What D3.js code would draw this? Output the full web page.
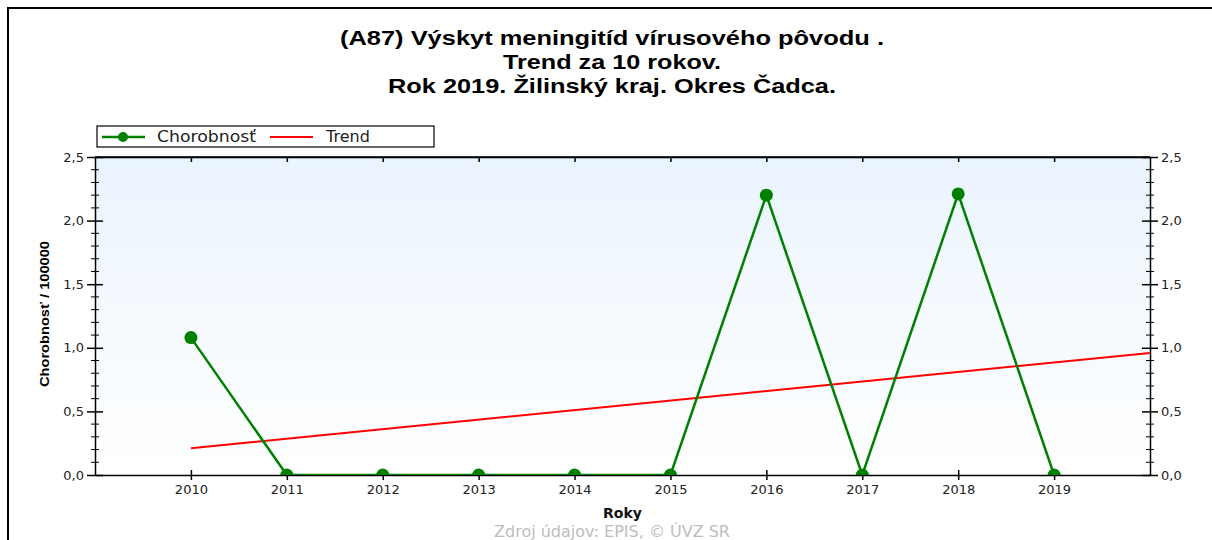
<!DOCTYPE html>
<html>
<head>
<meta charset="utf-8">
<script src="https://cdn.jsdelivr.net/npm/d3@7"></script>
<style>
  body { margin: 0; background: #fff; }
  text { font-family: "Liberation Sans", Arial, sans-serif; }
</style>
</head>
<body>
<svg id="chart" width="1212" height="540"></svg>
<script>
const years = [2010, 2011, 2012, 2013, 2014, 2015, 2016, 2017, 2018, 2019];
const chorobnost = [1.08, 0, 0, 0, 0, 0, 2.2, 0, 2.21, 0];
const trendYears = [2010, 2020];
const trendValues = [0.21, 0.96];
const yTicks = [0, 0.5, 1.0, 1.5, 2.0, 2.5];
const titleLines = [
  "(A87) Výskyt meningitíd vírusového pôvodu .",
  "Trend za 10 rokov.",
  "Rok 2019. Žilinský kraj. Okres Čadca."
];

const svg = d3.select("#chart");
const margin = { top: 157, right: 62, bottom: 65, left: 95 };
const width = 1212, height = 540;
const plotW = width - margin.left - margin.right;
const plotH = height - margin.top - margin.bottom;
const tickFont = '"DejaVu Sans", Verdana, sans-serif';

const x = d3.scaleLinear().domain([2009, 2020]).range([margin.left, margin.left + plotW]);
const y = d3.scaleLinear().domain([0, 2.5]).range([margin.top + plotH, margin.top]);
const fmt = d => d3.format(".1f")(d).replace(".", ",");

// outer frame
svg.append("path")
  .attr("d", "M8,540 L8,8 L1212,8")
  .attr("fill", "none").attr("stroke", "#000").attr("stroke-width", 2);

// titles
svg.selectAll(".title")
  .data(titleLines)
  .join("text")
  .attr("class", "title")
  .attr("x", 612)
  .attr("y", (d, i) => 45 + i * 24)
  .attr("text-anchor", "middle")
  .attr("font-size", 20)
  .attr("font-weight", "bold")
  .attr("fill", "#000")
  .attr("textLength", (d, i) => [544, 218, 448][i])
  .attr("lengthAdjust", "spacingAndGlyphs")
  .text(d => d);

// plot background gradient
const defs = svg.append("defs");
const grad = defs.append("linearGradient").attr("id", "bg").attr("x1", 0).attr("y1", 0).attr("x2", 0).attr("y2", 1);
grad.append("stop").attr("offset", "0%").attr("stop-color", "#eaf4fd");
grad.append("stop").attr("offset", "100%").attr("stop-color", "#ffffff");
defs.append("clipPath").attr("id", "clip")
  .append("rect")
  .attr("x", margin.left).attr("y", margin.top)
  .attr("width", plotW).attr("height", plotH);

svg.append("rect")
  .attr("x", margin.left).attr("y", margin.top)
  .attr("width", plotW).attr("height", plotH)
  .attr("fill", "url(#bg)");

// axes
const bottomAxis = svg.append("g")
  .attr("transform", `translate(0,${margin.top + plotH})`)
  .call(d3.axisBottom(x).tickValues(years).tickFormat(d3.format("d")).tickSizeInner(5).tickSizeOuter(0).tickPadding(5));
bottomAxis.selectAll(".tick line").attr("y1", -5);

svg.append("g")
  .attr("transform", `translate(0,${margin.top})`)
  .call(d3.axisTop(x).tickValues(years).tickFormat("").tickSizeInner(-5).tickSizeOuter(0));

const minorTicks = d3.range(0, 26).map(d => d / 10).filter(d => Math.round(d * 10) % 5 !== 0);

function yAxisAt(gen, xpos) {
  const g = svg.append("g").attr("transform", `translate(${xpos},0)`);
  g.call(gen(y).tickValues(yTicks).tickFormat(fmt).tickSizeInner(8).tickSizeOuter(0).tickPadding(3));
  g.selectAll(".tick line").attr("x1", gen === d3.axisLeft ? 8 : -8);
  g.selectAll(".minor")
    .data(minorTicks)
    .join("line")
    .attr("class", "minor")
    .attr("x1", -4).attr("x2", 4)
    .attr("y1", d => y(d)).attr("y2", d => y(d))
    .attr("stroke", "#000");
  return g;
}
yAxisAt(d3.axisLeft, margin.left);
yAxisAt(d3.axisRight, margin.left + plotW);

svg.selectAll(".domain").attr("stroke", "#000").attr("stroke-width", 1.5);
svg.selectAll(".tick line").attr("stroke", "#000").attr("stroke-width", 1.5);
svg.selectAll(".tick text").attr("font-size", 13).attr("fill", "#222")
  .style("font-family", tickFont);

// top border line of plot
svg.append("line")
  .attr("x1", margin.left).attr("x2", margin.left + plotW)
  .attr("y1", margin.top).attr("y2", margin.top)
  .attr("stroke", "#000").attr("stroke-width", 1.5);

// data
const plot = svg.append("g").attr("clip-path", "url(#clip)");
const trendData = trendYears.map((d, i) => [d, trendValues[i]]);
plot.append("path")
  .datum(trendData)
  .attr("d", d3.line().x(d => x(d[0])).y(d => y(d[1])))
  .attr("fill", "none").attr("stroke", "#ff0000").attr("stroke-width", 2);

const series = years.map((d, i) => [d, chorobnost[i]]);
plot.append("path")
  .datum(series)
  .attr("d", d3.line().x(d => x(d[0])).y(d => y(d[1])))
  .attr("fill", "none").attr("stroke", "#008000").attr("stroke-width", 2.5);
plot.selectAll(".pt")
  .data(series)
  .join("circle")
  .attr("class", "pt")
  .attr("cx", d => x(d[0])).attr("cy", d => y(d[1]))
  .attr("r", 6.5).attr("fill", "#008000");

// axis titles
svg.append("text")
  .attr("x", x(2014.5)).attr("y", 518)
  .attr("text-anchor", "middle")
  .attr("font-size", 14).attr("font-weight", "bold").attr("fill", "#111")
  .style("font-family", tickFont)
  .text("Roky");
svg.append("text")
  .attr("transform", `translate(49,${y(1.25) - 2}) rotate(-90)`)
  .attr("text-anchor", "middle")
  .attr("font-size", 13).attr("font-weight", "bold").attr("fill", "#000")
  .attr("textLength", 146).attr("lengthAdjust", "spacingAndGlyphs")
  .text("Chorobnosť / 100000");

svg.append("text")
  .attr("x", 612).attr("y", 537)
  .attr("text-anchor", "middle")
  .attr("font-size", 16).attr("fill", "#bdbdbd")
  .style("font-family", tickFont)
  .text("Zdroj údajov: EPIS, © ÚVZ SR");

// legend
const legend = svg.append("g");
legend.append("rect")
  .attr("x", 97).attr("y", 126).attr("width", 337).attr("height", 21)
  .attr("fill", "#fff").attr("stroke", "#000").attr("stroke-width", 1.2);
legend.append("line").attr("x1", 102).attr("x2", 145).attr("y1", 137).attr("y2", 137)
  .attr("stroke", "#008000").attr("stroke-width", 2.5);
legend.append("circle").attr("cx", 123).attr("cy", 137).attr("r", 5).attr("fill", "#008000");
legend.append("text").attr("x", 157).attr("y", 142).attr("font-size", 16).attr("fill", "#222")
  .attr("textLength", 99).attr("lengthAdjust", "spacingAndGlyphs")
  .style("font-family", tickFont).text("Chorobnosť");
legend.append("line").attr("x1", 270).attr("x2", 313).attr("y1", 137).attr("y2", 137)
  .attr("stroke", "#ff0000").attr("stroke-width", 2);
legend.append("text").attr("x", 326).attr("y", 142).attr("font-size", 16).attr("fill", "#222")
  .style("font-family", tickFont).text("Trend");
</script>
</body>
</html>
